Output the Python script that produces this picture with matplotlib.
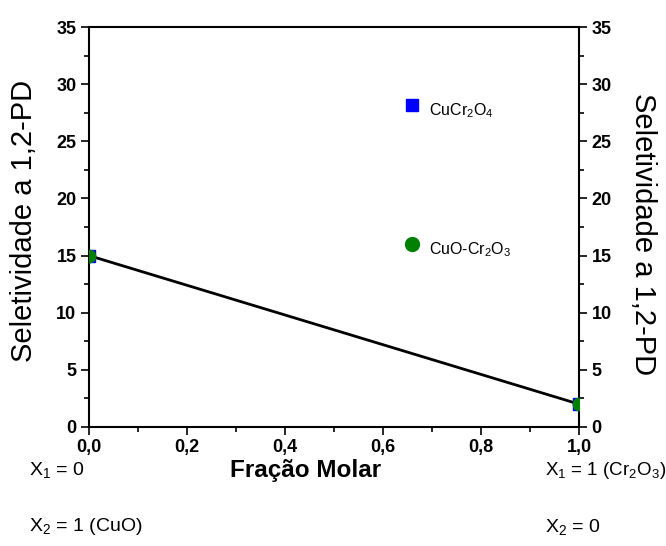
import matplotlib
matplotlib.use("Agg")
import matplotlib.pyplot as plt
from matplotlib.ticker import MultipleLocator, FuncFormatter

# Data
fit_x = [0.0, 1.0]
fit_y = [15.0, 2.0]
end_x = [0.0, 1.0]
end_y = [15.0, 2.0]
cucr2o4_x = [0.66]
cucr2o4_y = [28.2]
cuo_cr2o3_x = [0.66]
cuo_cr2o3_y = [16.0]

plt.rcParams['font.family'] = ['Liberation Sans', 'DejaVu Sans']
plt.rcParams['mathtext.fontset'] = 'custom'
plt.rcParams['mathtext.rm'] = 'Liberation Sans'
plt.rcParams['mathtext.it'] = 'Liberation Sans:italic'
plt.rcParams['mathtext.bf'] = 'Liberation Sans:bold'

fig = plt.figure(figsize=(6.66, 5.46), dpi=100)
ax = fig.add_axes([0.1336, 0.218, 0.7358, 0.7325])

ax.plot(fit_x, fit_y, color='black', lw=2, zorder=2)
ax.plot(end_x, end_y, 's', color='blue', ms=8, zorder=3)
ax.plot(end_x, end_y, 'o', color='green', ms=9, zorder=4)
ax.plot(cucr2o4_x, cucr2o4_y, 's', color='blue', ms=9, clip_on=False, zorder=3)
ax.plot(cuo_cr2o3_x, cuo_cr2o3_y, 'o', color='green', ms=10, clip_on=False, zorder=3)

ax.annotate('CuCr$_2$O$_4$', (cucr2o4_x[0], cucr2o4_y[0]), xytext=(12, -4),
            textcoords='offset points', fontsize=11.5, va='center', ha='left')
ax.annotate('CuO-Cr$_2$O$_3$', (cuo_cr2o3_x[0], cuo_cr2o3_y[0]), xytext=(12, -4),
            textcoords='offset points', fontsize=11.5, va='center', ha='left')

ax.set_xlim(0, 1)
ax.set_ylim(0, 35)
ax.xaxis.set_major_locator(MultipleLocator(0.2))
ax.xaxis.set_minor_locator(MultipleLocator(0.1))
ax.yaxis.set_major_locator(MultipleLocator(5))
ax.yaxis.set_minor_locator(MultipleLocator(2.5))
ax.xaxis.set_major_formatter(FuncFormatter(lambda v, p: f"{v:.1f}".replace('.', ',')))
ax.yaxis.set_major_formatter(FuncFormatter(lambda v, p: f"{v:.0f}"))

ax.tick_params(axis='both', which='major', direction='out', length=6, width=1.2,
               labelsize=13, pad=3)
ax.tick_params(axis='both', which='minor', direction='out', length=3.5, width=1.2)
ax.tick_params(axis='y', which='both', right=True, labelright=True)
for lbl in ax.get_xticklabels() + ax.get_yticklabels():
    lbl.set_fontweight('bold')
for sp in ax.spines.values():
    sp.set_linewidth(1.5)

fig.text(0.036, 0.595, 'Seletividade a 1,2-PD', fontsize=21, rotation=90,
         ha='center', va='center')
fig.text(0.966, 0.572, 'Seletividade a 1,2-PD', fontsize=21, rotation=270,
         ha='center', va='center')

fig.text(0.459, 0.139, 'Fração Molar', fontsize=17.5, fontweight='bold',
         ha='center', va='center')

fig.text(0.044, 0.139, 'X$_1$ = 0', fontsize=14, va='center')
fig.text(0.044, 0.035, 'X$_2$ = 1 (CuO)', fontsize=14, va='center')
fig.text(0.818, 0.139, 'X$_1$ = 1 (Cr$_2$O$_3$)', fontsize=13.5, va='center')
fig.text(0.818, 0.035, 'X$_2$ = 0', fontsize=14, va='center')

fig.savefig('out.png', dpi=100)
